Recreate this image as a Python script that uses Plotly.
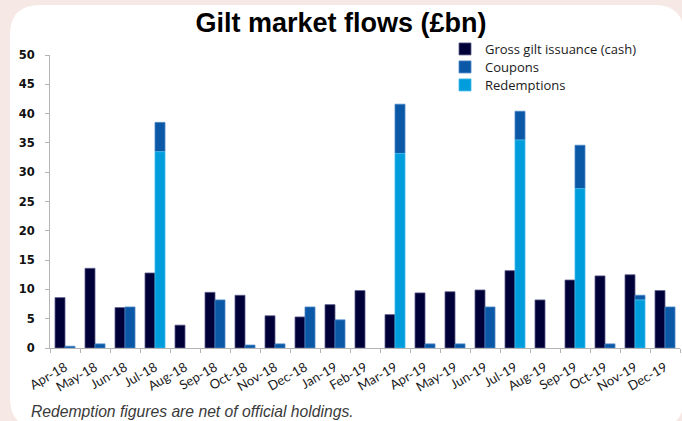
import plotly.graph_objects as go

months = ["Apr-18", "May-18", "Jun-18", "Jul-18", "Aug-18", "Sep-18", "Oct-18",
          "Nov-18", "Dec-18", "Jan-19", "Feb-19", "Mar-19", "Apr-19", "May-19",
          "Jun-19", "Jul-19", "Aug-19", "Sep-19", "Oct-19", "Nov-19", "Dec-19"]
gross_issuance = [8.6, 13.6, 6.9, 12.8, 3.9, 9.5, 9.0, 5.5, 5.3, 7.4, 9.8, 5.7, 9.4, 9.6,
                  9.9, 13.2, 8.2, 11.6, 12.3, 12.5, 9.8]
redemptions = [0, 0, 0, 33.5, 0, 0, 0, 0, 0, 0, 0, 33.2, 0, 0,
               0, 35.5, 0, 27.2, 0, 8.2, 0]
coupons = [0.3, 0.7, 7.0, 5.0, 0, 8.2, 0.5, 0.7, 7.0, 4.8, 0, 8.4, 0.7, 0.7,
           7.0, 4.9, 0, 7.4, 0.7, 0.8, 7.0]

W, H = 682, 421
ML, MR, MT, MB = 50, 2, 55, 73
PW, PH = W - ML - MR, H - MT - MB


def px(X):
    return (X - ML) / PW


def py(Y):
    return (H - MB - Y) / PH


def nz(vals):
    # zero-valued months are drawn as no bar at all
    return [v if v else None for v in vals]


fig = go.Figure()
fig.add_trace(go.Bar(
    x=months, y=nz(gross_issuance), name="Gross gilt issuance (cash)", legend="legend",
    offsetgroup="a", marker=dict(color="#000038", line=dict(color="#5c5c8c", width=0.8))))
fig.add_trace(go.Bar(
    x=months, y=nz(coupons), base=redemptions, name="Coupons", legend="legend2",
    offsetgroup="b", marker=dict(color="#0b58a6", line=dict(color="#4a86c6", width=0.8))))
fig.add_trace(go.Bar(
    x=months, y=nz(redemptions), name="Redemptions", legend="legend3",
    offsetgroup="b", marker=dict(color="#009ddc", line=dict(color="#40b8e8", width=0.8))))

# white rounded panel on pink background
x0, y0, x1, y1, r = 10, 5, 684, 428, 30
path = (f"M {px(x0 + r)},{py(y0)} L {px(x1 - r)},{py(y0)} "
        f"Q {px(x1)},{py(y0)} {px(x1)},{py(y0 + r)} "
        f"L {px(x1)},{py(y1 - r)} Q {px(x1)},{py(y1)} {px(x1 - r)},{py(y1)} "
        f"L {px(x0 + r)},{py(y1)} Q {px(x0)},{py(y1)} {px(x0)},{py(y1 - r)} "
        f"L {px(x0)},{py(y0 + r)} Q {px(x0)},{py(y0)} {px(x0 + r)},{py(y0)} Z")

leg_font = dict(family="Open Sans", size=13, color="#1a1a1a")


def leg(Y):
    return dict(x=px(445), y=py(Y), xanchor="left", yanchor="middle",
                bgcolor="rgba(0,0,0,0)", font=leg_font)


fig.update_layout(
    width=W, height=H,
    margin=dict(l=ML, r=MR, t=MT, b=MB, pad=0),
    paper_bgcolor="#f6e8e5",
    plot_bgcolor="rgba(0,0,0,0)",
    showlegend=True,
    barmode="group", bargap=1 / 3, bargroupgap=0,
    shapes=[dict(type="path", path=path, xref="paper", yref="paper",
                 fillcolor="white", line=dict(width=0), layer="below")],
    title=dict(text="<b>Gilt market flows (£bn)</b>", x=0.5, xref="container",
               y=1 - 23 / H, yref="container", xanchor="center", yanchor="middle",
               font=dict(family="Liberation Sans, Arial", size=27, color="#000000")),
    legend=leg(49), legend2=leg(67), legend3=leg(85),
    annotations=[dict(text="Redemption figures are net of official holdings.",
                      x=px(29), y=py(411), xref="paper", yref="paper",
                      xanchor="left", yanchor="middle", showarrow=False,
                      font=dict(family="Liberation Sans, Arial", size=15.7,
                                color="#3a3a3a", style="italic"))],
)
fig.update_xaxes(
    type="category", showline=True, linecolor="#b4b4b4", linewidth=1,
    ticks="outside", tickson="boundaries", ticklen=4, tickcolor="#b4b4b4",
    tickangle=-30, ticklabelstandoff=6,
    tickfont=dict(family="Lato", size=13, color="#1a1a1a"),
    showgrid=False, zeroline=False)
fig.update_yaxes(
    range=[0, 50], dtick=5, showline=True, linecolor="#b4b4b4", linewidth=1,
    ticks="outside", ticklen=4, tickcolor="#b4b4b4", ticklabelstandoff=8,
    tickfont=dict(family="DejaVu Sans", size=11.5, color="#111111", weight="bold"),
    showgrid=False, zeroline=False)

fig.write_html("out.html", config={"displayModeBar": False},
               post_script="document.body.style.margin='0';document.body.style.overflow='hidden';")
